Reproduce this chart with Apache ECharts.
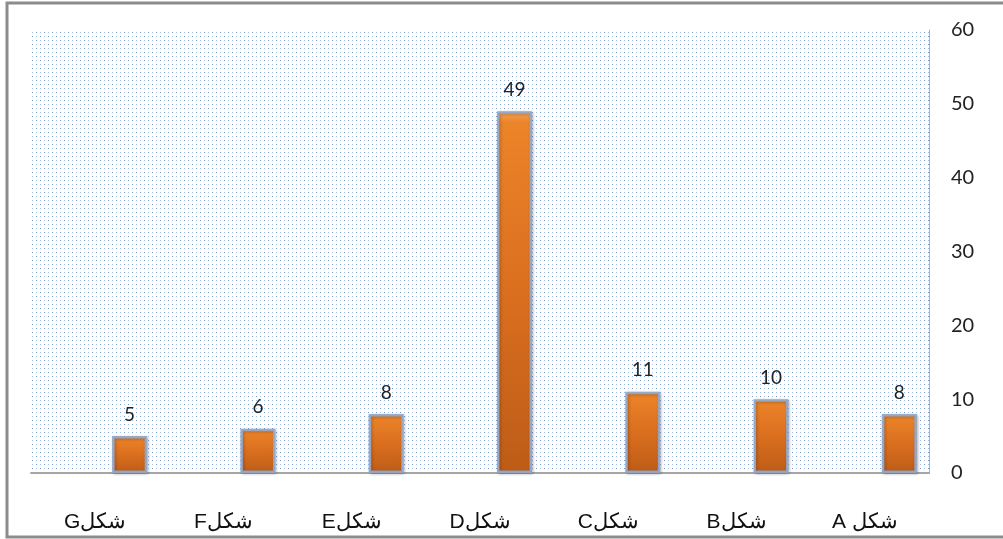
<!DOCTYPE html>
<html>
<head>
<meta charset="utf-8">
<script src="https://cdn.jsdelivr.net/npm/echarts@6/dist/echarts.min.js"></script>
<style>
html,body{margin:0;padding:0;background:#fff;}
#c{width:1003px;height:539px;}
</style>
</head>
<body>
<div id="c"></div>
<script>
const categories = ['\u202BشكلG\u202C', '\u202BشكلF\u202C', '\u202BشكلE\u202C', '\u202BشكلD\u202C', '\u202BشكلC\u202C', '\u202BشكلB\u202C', '\u202Bشكل A\u202C'];
const values = [5, 6, 8, 49, 11, 10, 8];
const yTicks = [0, 10, 20, 30, 40, 50, 60];

// dotted background pattern
const tile = document.createElement('canvas');
tile.width = 8; tile.height = 8;
const tc = tile.getContext('2d');
tc.fillStyle = '#ffffff'; tc.fillRect(0, 0, 8, 8);
tc.fillStyle = '#a9c1e6'; tc.fillRect(0, 0, 1, 1);
tc.fillStyle = '#7099d8'; tc.fillRect(4, 0, 1, 1);
tc.fillStyle = '#7099d8'; tc.fillRect(0, 4, 1, 1);
tc.fillStyle = '#bccdea'; tc.fillRect(4, 4, 1, 1);

const chart = echarts.init(document.getElementById('c'), null, {renderer: 'canvas'});
chart.setOption({
  animation: false,
  backgroundColor: '#ffffff',
  grid: {
    left: 31, right: 74, top: 30, bottom: 66,
    show: true, borderWidth: 0,
    backgroundColor: {image: tile, repeat: 'repeat'}
  },
  xAxis: {
    type: 'category',
    data: categories,
    axisLine: {show: true, lineStyle: {color: '#a6a6a6', width: 2}},
    axisTick: {show: false},
    axisLabel: {
      margin: 39, fontSize: 21, color: '#111',
      fontFamily: 'Liberation Sans, Arial, sans-serif'
    },
    splitLine: {show: false}
  },
  yAxis: {
    type: 'value',
    position: 'right',
    min: yTicks[0], max: yTicks[yTicks.length - 1], interval: 10,
    axisLine: {show: true, lineStyle: {color: '#9fb2cf', width: 1}},
    axisTick: {show: false},
    splitLine: {show: false},
    axisLabel: {margin: 22, fontSize: 20, color: '#222', fontFamily: 'Lato, sans-serif'}
  },
  series: [
    {
      type: 'bar',
      data: values.map(() => null),
      barWidth: 35,
      barGap: '97%'
    },
    {
      type: 'bar',
      data: values,
      barWidth: 35,
      itemStyle: {
        color: new echarts.graphic.LinearGradient(0, 0, 0, 1, [
          {offset: 0, color: '#f5a95e'},
          {offset: 0.03, color: '#ec8429'},
          {offset: 0.5, color: '#da6f1f'},
          {offset: 1, color: '#bd5c17'}
        ]),
        borderColor: 'rgba(150,168,198,0.95)',
        borderWidth: 2.5,
        shadowColor: 'rgba(0,0,0,0.25)',
        shadowBlur: 3,
        shadowOffsetX: 1,
        shadowOffsetY: 1
      },
      label: {
        show: true, position: 'top', distance: 12,
        fontSize: 19, color: '#222', fontFamily: 'Lato, sans-serif'
      }
    }
  ],
  graphic: [{
    type: 'rect',
    shape: {x: 7, y: 3, width: 1010, height: 534},
    style: {fill: 'none', stroke: '#8c8c8c', lineWidth: 3},
    silent: true
  }]
});
</script>
</body>
</html>
